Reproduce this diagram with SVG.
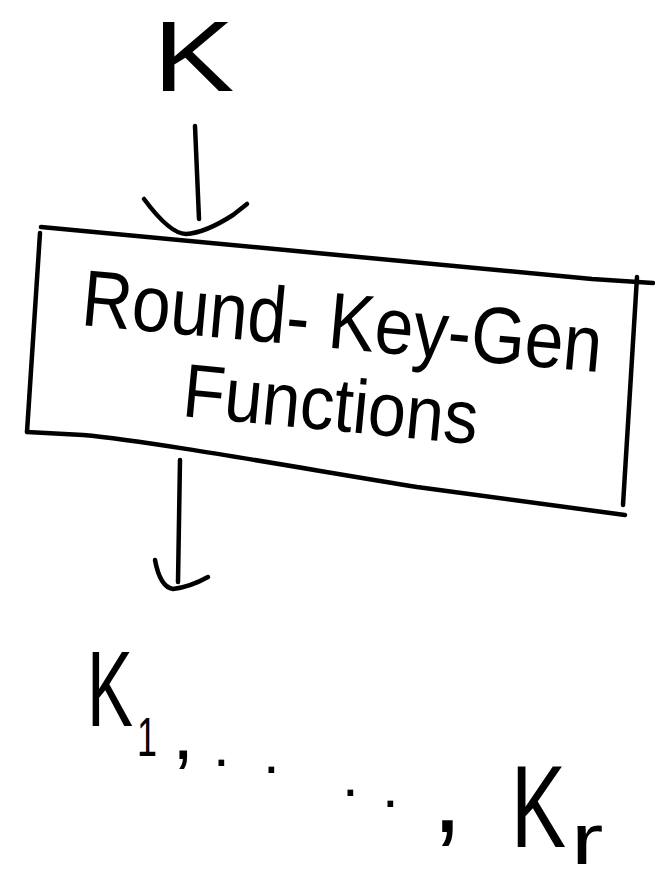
<svg xmlns="http://www.w3.org/2000/svg" width="655" height="882" viewBox="0 0 655 882">
  <style>
    .ink { fill: none; stroke: #000; stroke-width: 4.5; stroke-linecap: round; stroke-linejoin: round; }
    .lbl { font-family: "Liberation Sans", Arial, sans-serif; fill: #000; }
  </style>
  <rect width="655" height="882" fill="#fff"/>

  <!-- master key input -->
  <g id="key-in">
    <text class="lbl" font-size="100" transform="translate(153 91) scale(1.22 1)">K</text>
  </g>

  <!-- round key generation box -->
  <g id="round-key-gen">
    <path class="ink" d="M41,227 L592,279 L653,283"/>
    <path class="ink" d="M40,233 L27,432"/>
    <path class="ink" d="M27,432 L83,435 C150,441 300,468 417,487 L625,515"/>
    <path class="ink" d="M637,277 L623,505"/>
    <text class="lbl" x="80" y="325" font-size="80" textLength="522" lengthAdjust="spacingAndGlyphs" transform="rotate(5.2 80 325)">Round- Key-Gen</text>
    <text class="lbl" x="181" y="416" font-size="76" textLength="296" lengthAdjust="spacingAndGlyphs" transform="rotate(5.5 181 416)">Functions</text>
  </g>

  <!-- round keys output: K1, ..., Kr -->
  <g id="round-keys">
    <text class="lbl" x="87" y="726" font-size="108" textLength="46" lengthAdjust="spacingAndGlyphs">K</text>
    <text class="lbl" x="137" y="756" font-size="55" textLength="20" lengthAdjust="spacingAndGlyphs">1</text>
    <text class="lbl" x="172" y="759" font-size="80">,</text>
    <text class="lbl" x="213" y="766" font-size="60">.</text>
    <text class="lbl" x="263" y="773" font-size="60">.</text>
    <text class="lbl" x="342" y="796" font-size="60">.</text>
    <text class="lbl" x="382" y="807" font-size="60">.</text>
    <text class="lbl" x="432" y="832" font-size="110">,</text>
    <text class="lbl" x="511" y="847" font-size="117" textLength="55" lengthAdjust="spacingAndGlyphs">K</text>
    <text class="lbl" font-size="72" transform="translate(571 864) scale(1.35 1)">r</text>
  </g>

  <!-- connectors -->
  <g id="connectors">
    <path class="ink" d="M195,126 L199,219"/>
    <path class="ink" d="M144,199 Q170,234 186,234 Q205,233 233,215 L247,204"/>
    <path class="ink" d="M180,460 L178,582"/>
    <path class="ink" d="M155,560 Q160,587 173,589 Q190,587 208,577"/>
  </g>
</svg>
